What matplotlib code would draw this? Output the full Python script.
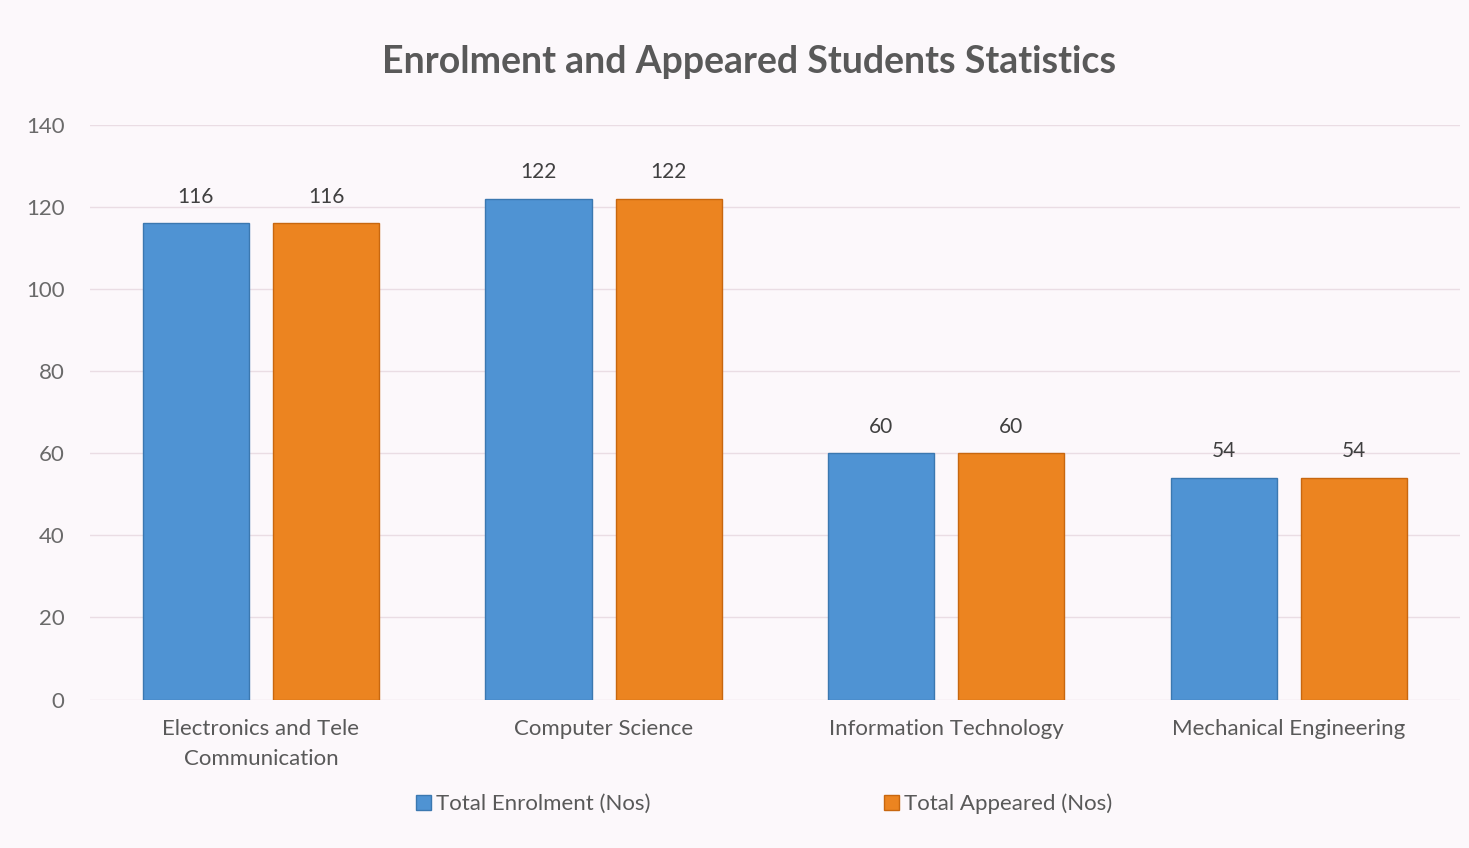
import matplotlib.pyplot as plt
import numpy as np

categories = ["Electronics and Tele\nCommunication", "Computer Science",
              "Information Technology", "Mechanical Engineering"]
enrolment = [116, 122, 60, 54]
appeared = [116, 122, 60, 54]
series_names = ["Total Enrolment (Nos)", "Total Appeared (Nos)"]

plt.rcParams['font.family'] = ['Lato', 'DejaVu Sans']

bg = "#fcf8fb"
blue = "#4f93d3"
orange = "#ec8420"
text_col = "#595959"

fig = plt.figure(figsize=(14.69, 8.48), dpi=100, facecolor=bg)
ax = fig.add_axes([0.061, 0.175, 0.933, 0.678], facecolor=bg)

x = np.arange(len(categories))
w = 0.31
off = 0.19
b1 = ax.bar(x - off, enrolment, w, color=blue, edgecolor="#3b78b0", linewidth=1.0,
            label=series_names[0], zorder=3)
b2 = ax.bar(x + off, appeared, w, color=orange, edgecolor="#c8670f", linewidth=1.0,
            label=series_names[1], zorder=3)

for bars in (b1, b2):
    for r in bars:
        ax.text(r.get_x() + r.get_width() / 2, r.get_height() + 4, f"{int(r.get_height())}",
                ha="center", va="bottom", fontsize=15, color="#404040")

ax.set_xlim(-0.5, len(categories) - 0.5)
ax.set_ylim(0, 140)
ax.set_yticks(range(0, 141, 20))
ax.grid(axis="y", color="#eadde4", linewidth=1.0, zorder=0)
for s in ax.spines.values():
    s.set_visible(False)
ax.tick_params(axis="both", length=0, labelsize=16, labelcolor=text_col)
ax.tick_params(axis="y", pad=18, labelcolor="#6a6a6a")
ax.tick_params(axis="x", pad=14)
ax.set_xticks(x)
ax.set_xticklabels(categories, fontsize=16, color=text_col, linespacing=1.6)

fig.text(0.51, 0.927, "Enrolment and Appeared Students Statistics", ha="center",
         va="center", fontsize=27, fontweight="bold", color=text_col)

fig.legend(handles=[b1, b2], labels=series_names, loc="center", ncol=2,
           bbox_to_anchor=(0.52, 0.052), frameon=False, fontsize=16,
           handlelength=0.7, handleheight=0.7, handletextpad=0.2, columnspacing=10.5,
           labelcolor=text_col)

fig.savefig("out.png", dpi=100, facecolor=bg)
